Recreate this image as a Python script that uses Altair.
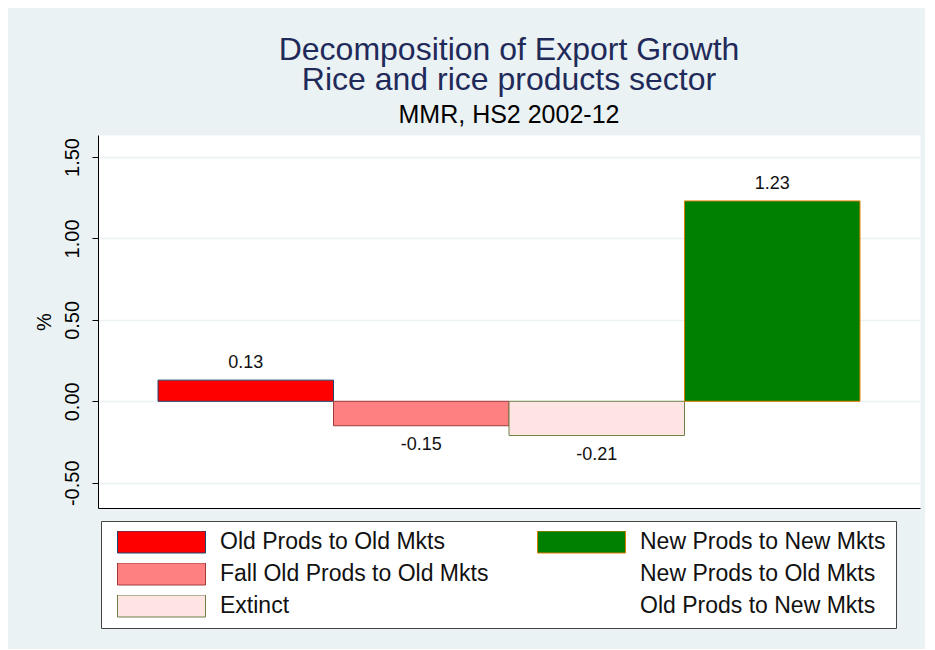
import altair as alt
import pandas as pd

# ---- data ----
bar_categories = ["Old Prods to Old Mkts", "Fall Old Prods to Old Mkts",
                  "Extinct", "New Prods to New Mkts"]
bar_values = [0.13, -0.15, -0.21, 1.23]

# legend entries (filled column by column, 3 rows x 2 columns)
legend_order = ["Old Prods to Old Mkts", "Fall Old Prods to Old Mkts", "Extinct",
                "New Prods to New Mkts", "New Prods to Old Mkts", "Old Prods to New Mkts"]
fill_colors = ["#FF0000", "#FF8080", "#FFE4E4", "#008000", "transparent", "transparent"]
stroke_colors = ["#1A476F", "#A03A3A", "#6E8048", "#E07B00", "transparent", "transparent"]

y_ticks = [-0.5, 0.0, 0.5, 1.0, 1.5]

df = pd.DataFrame({"category": bar_categories, "value": bar_values})
df["label"] = [f"{v:.2f}" for v in bar_values]

FONT = "Liberation Sans"
BG = "#EAF2F3"

x_enc = alt.X("category:N", sort=bar_categories,
              scale=alt.Scale(domain=bar_categories, paddingInner=0, paddingOuter=0.342),
              axis=alt.Axis(title=None, labels=False, ticks=False, domain=True,
                            domainColor="#000000", domainWidth=1, grid=False))
y_enc = alt.Y("value:Q",
              scale=alt.Scale(domain=[-0.655, 1.635], nice=False, zero=False),
              axis=alt.Axis(title="%", values=y_ticks,
                            labelExpr="replace(format(datum.value, '.2f'), '\u2212', '-')",
                            labelAngle=270, labelAlign="center", labelBaseline="bottom",
                            labelFont=FONT, labelFontSize=20, labelColor="#000000",
                            labelPadding=10, tickSize=6, tickColor="#000000", tickWidth=1,
                            domainColor="#000000", domainWidth=1,
                            grid=True, gridColor=BG, gridWidth=1.5,
                            titleFont=FONT, titleFontSize=20, titleFontWeight="normal",
                            titleColor="#000000", titlePadding=8))

leg = alt.Legend(title=None, orient="none", legendX=3, legendY=386,
                 direction="vertical", columns=2, columnPadding=42, rowPadding=9,
                 symbolType="M-1,-0.25H1V0.25H-1Z", symbolSize=7744,
                 symbolStrokeWidth=1, symbolOffset=6, clipHeight=22,
                 labelFont=FONT, labelFontSize=23, labelColor="#111111",
                 labelOffset=14, labelLimit=400, padding=10,
                 fillColor="#FFFFFF", strokeColor="#444444")

base = alt.Chart(df)

bars = base.mark_bar(strokeWidth=1).encode(
    x=x_enc, y=y_enc,
    fill=alt.Fill("category:N", scale=alt.Scale(domain=legend_order, range=fill_colors), legend=leg),
    stroke=alt.Stroke("category:N", scale=alt.Scale(domain=legend_order, range=stroke_colors), legend=leg),
)

pos_text = base.transform_filter("datum.value >= 0").mark_text(
    dy=-17, font=FONT, fontSize=18, color="#111111", baseline="middle"
).encode(x=x_enc, y=y_enc, text="label:N")

neg_text = base.transform_filter("datum.value < 0").mark_text(
    dy=19, font=FONT, fontSize=18, color="#111111", baseline="middle"
).encode(x=x_enc, y=y_enc, text="label:N")

chart = alt.layer(bars, pos_text, neg_text).properties(
    width=822, height=373,
    background=BG,
    padding={"left": 26, "top": 26, "right": 5, "bottom": 20},
    title=alt.TitleParams(
        text=["Decomposition of Export Growth", "Rice and rice products sector"],
        subtitle="MMR, HS2 2002-12",
        font=FONT, fontSize=32, fontWeight="normal", color="#1F2A5A", lineHeight=30,
        subtitleFont=FONT, subtitleFontSize=25, subtitleColor="#000000",
        subtitlePadding=6, offset=6, anchor="middle", frame="group",
    ),
).configure_view(stroke="transparent", fill="#FFFFFF")

chart.save("out.html", embed_options={"renderer": "svg", "actions": False})
